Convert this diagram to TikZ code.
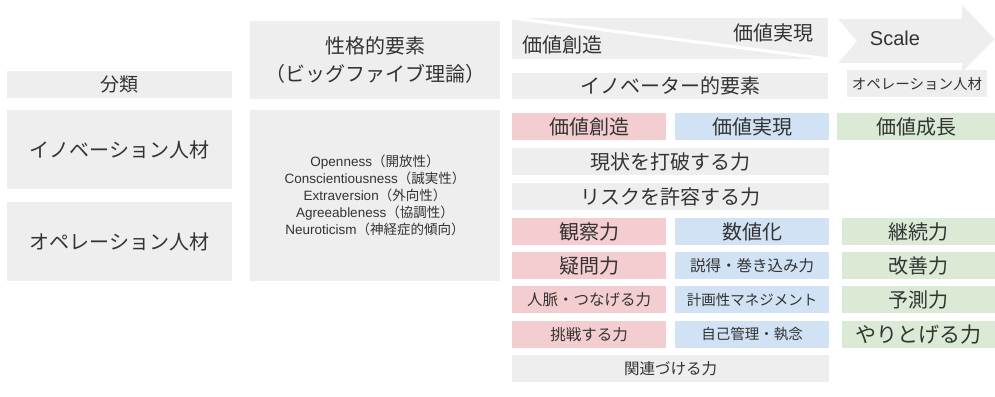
\documentclass[tikz,border=0pt]{standalone}
\usepackage{fontspec}
\setmainfont{Noto Sans CJK JP}
\newfontfamily\lat{Liberation Sans}
\definecolor{txt}{HTML}{333333}
\definecolor{gbox}{HTML}{EEEEEE}
\definecolor{pbox}{HTML}{F3CDD0}
\definecolor{bbox}{HTML}{D0E2F3}
\definecolor{grbox}{HTML}{DAEAD4}
\tikzset{
  cellbase/.style={rectangle, inner sep=0pt, outer sep=0pt, anchor=north west, text=txt, align=center},
  graycell/.style={cellbase, fill=gbox},
  pinkcell/.style={cellbase, fill=pbox},
  bluecell/.style={cellbase, fill=bbox},
  greencell/.style={cellbase, fill=grbox},
  fsL/.style={font=\fontsize{20}{24}\selectfont},
  fsM/.style={font=\fontsize{19}{23}\selectfont},
  fsS/.style={font=\fontsize{15.5}{18}\selectfont},
  fsXS/.style={font=\fontsize{14.5}{17}\selectfont},
  fsTwo/.style={font=\fontsize{20}{28}\selectfont},
  fsList/.style={font=\fontsize{13.5}{17}\selectfont},
  lbl/.style={inner sep=0pt, text=txt}
}
\newcommand\cell[7]{\node[#2, minimum width=#5pt, minimum height=#6pt] (#1) at (#3,#4) {#7};}
\begin{document}
\begin{tikzpicture}[x=1pt,y=-1pt]
\useasboundingbox (0,0) rectangle (995,396);
% left columns
\cell{bunrui}{graycell,fsM}{7}{71}{225}{27}{分類}
\cell{seikaku}{graycell,fsTwo}{250}{21}{250}{78}{性格的要素\\（ビッグファイブ理論）}
\cell{innov}{graycell,fsL}{7}{110}{225}{79}{イノベーション人材}
\cell{oper}{graycell,fsL}{7}{202}{225}{79}{オペレーション人材}
\cell{big5}{graycell,fsList}{250}{110}{250}{171}{{\lat Openness}（開放性）\\
{\lat Conscientiousness}（誠実性）\\
{\lat Extraversion}（外向性）\\
{\lat Agreeableness}（協調性）\\
{\lat Neuroticism}（神経症的傾向）}
% top wedge
\cell{wedge}{graycell}{512}{18}{316}{41}{}
\draw[white, line width=3pt] (wedge.north west) -- (wedge.south east);
\node[lbl,fsL] (vc) at (562,45) {価値創造};
\node[lbl,fsL] (vr) at (773,33) {価値実現};
% arrow
\fill[gbox] (838,19) -- (962,19) -- (962,5) -- (995,39) -- (962,72) -- (962,63) -- (838,63) -- (857,41) -- cycle;
\node[lbl,font=\lat\fontsize{20}{24}\selectfont] (scale) at (895,38) {Scale};
% header row
\cell{innovel}{graycell,fsL}{512}{73}{316}{26}{イノベーター的要素}
\cell{operhd}{graycell,fsXS}{847}{70}{140}{27}{オペレーション人材}
% rows
\cell{p1}{pinkcell,fsL}{512}{113}{154}{27}{価値創造}
\cell{b1}{bluecell,fsL}{675}{113}{154}{27}{価値実現}
\cell{g1}{greencell,fsL}{837}{113}{158}{27}{価値成長}
\cell{w2}{graycell,fsL}{512}{148}{317}{27}{現状を打破する力}
\cell{w3}{graycell,fsL}{512}{183}{317}{27}{リスクを許容する力}
\cell{p4}{pinkcell,fsL}{512}{218}{154}{27}{観察力}
\cell{b4}{bluecell,fsL}{675}{218}{154}{27}{数値化}
\cell{g4}{greencell,fsL}{842}{218}{153}{27}{継続力}
\cell{p5}{pinkcell,fsL}{512}{252}{154}{27}{疑問力}
\cell{b5}{bluecell,fsS}{675}{252}{154}{27}{説得・巻き込み力}
\cell{g5}{greencell,fsL}{842}{252}{153}{27}{改善力}
\cell{p6}{pinkcell,fsS}{512}{286}{154}{27}{人脈・つなげる力}
\cell{b6}{bluecell,fsXS}{675}{286}{154}{27}{計画性マネジメント}
\cell{g6}{greencell,fsL}{842}{286}{153}{27}{予測力}
\cell{p7}{pinkcell,fsS}{512}{321}{154}{27}{挑戦する力}
\cell{b7}{bluecell,fsXS}{675}{321}{154}{27}{自己管理・執念}
\cell{g7}{greencell,font=\fontsize{21}{24}\selectfont}{842}{321}{153}{27}{やりとげる力}
\cell{w8}{graycell,fsS}{512}{355}{317}{27}{関連づける力}
\end{tikzpicture}
\end{document}
